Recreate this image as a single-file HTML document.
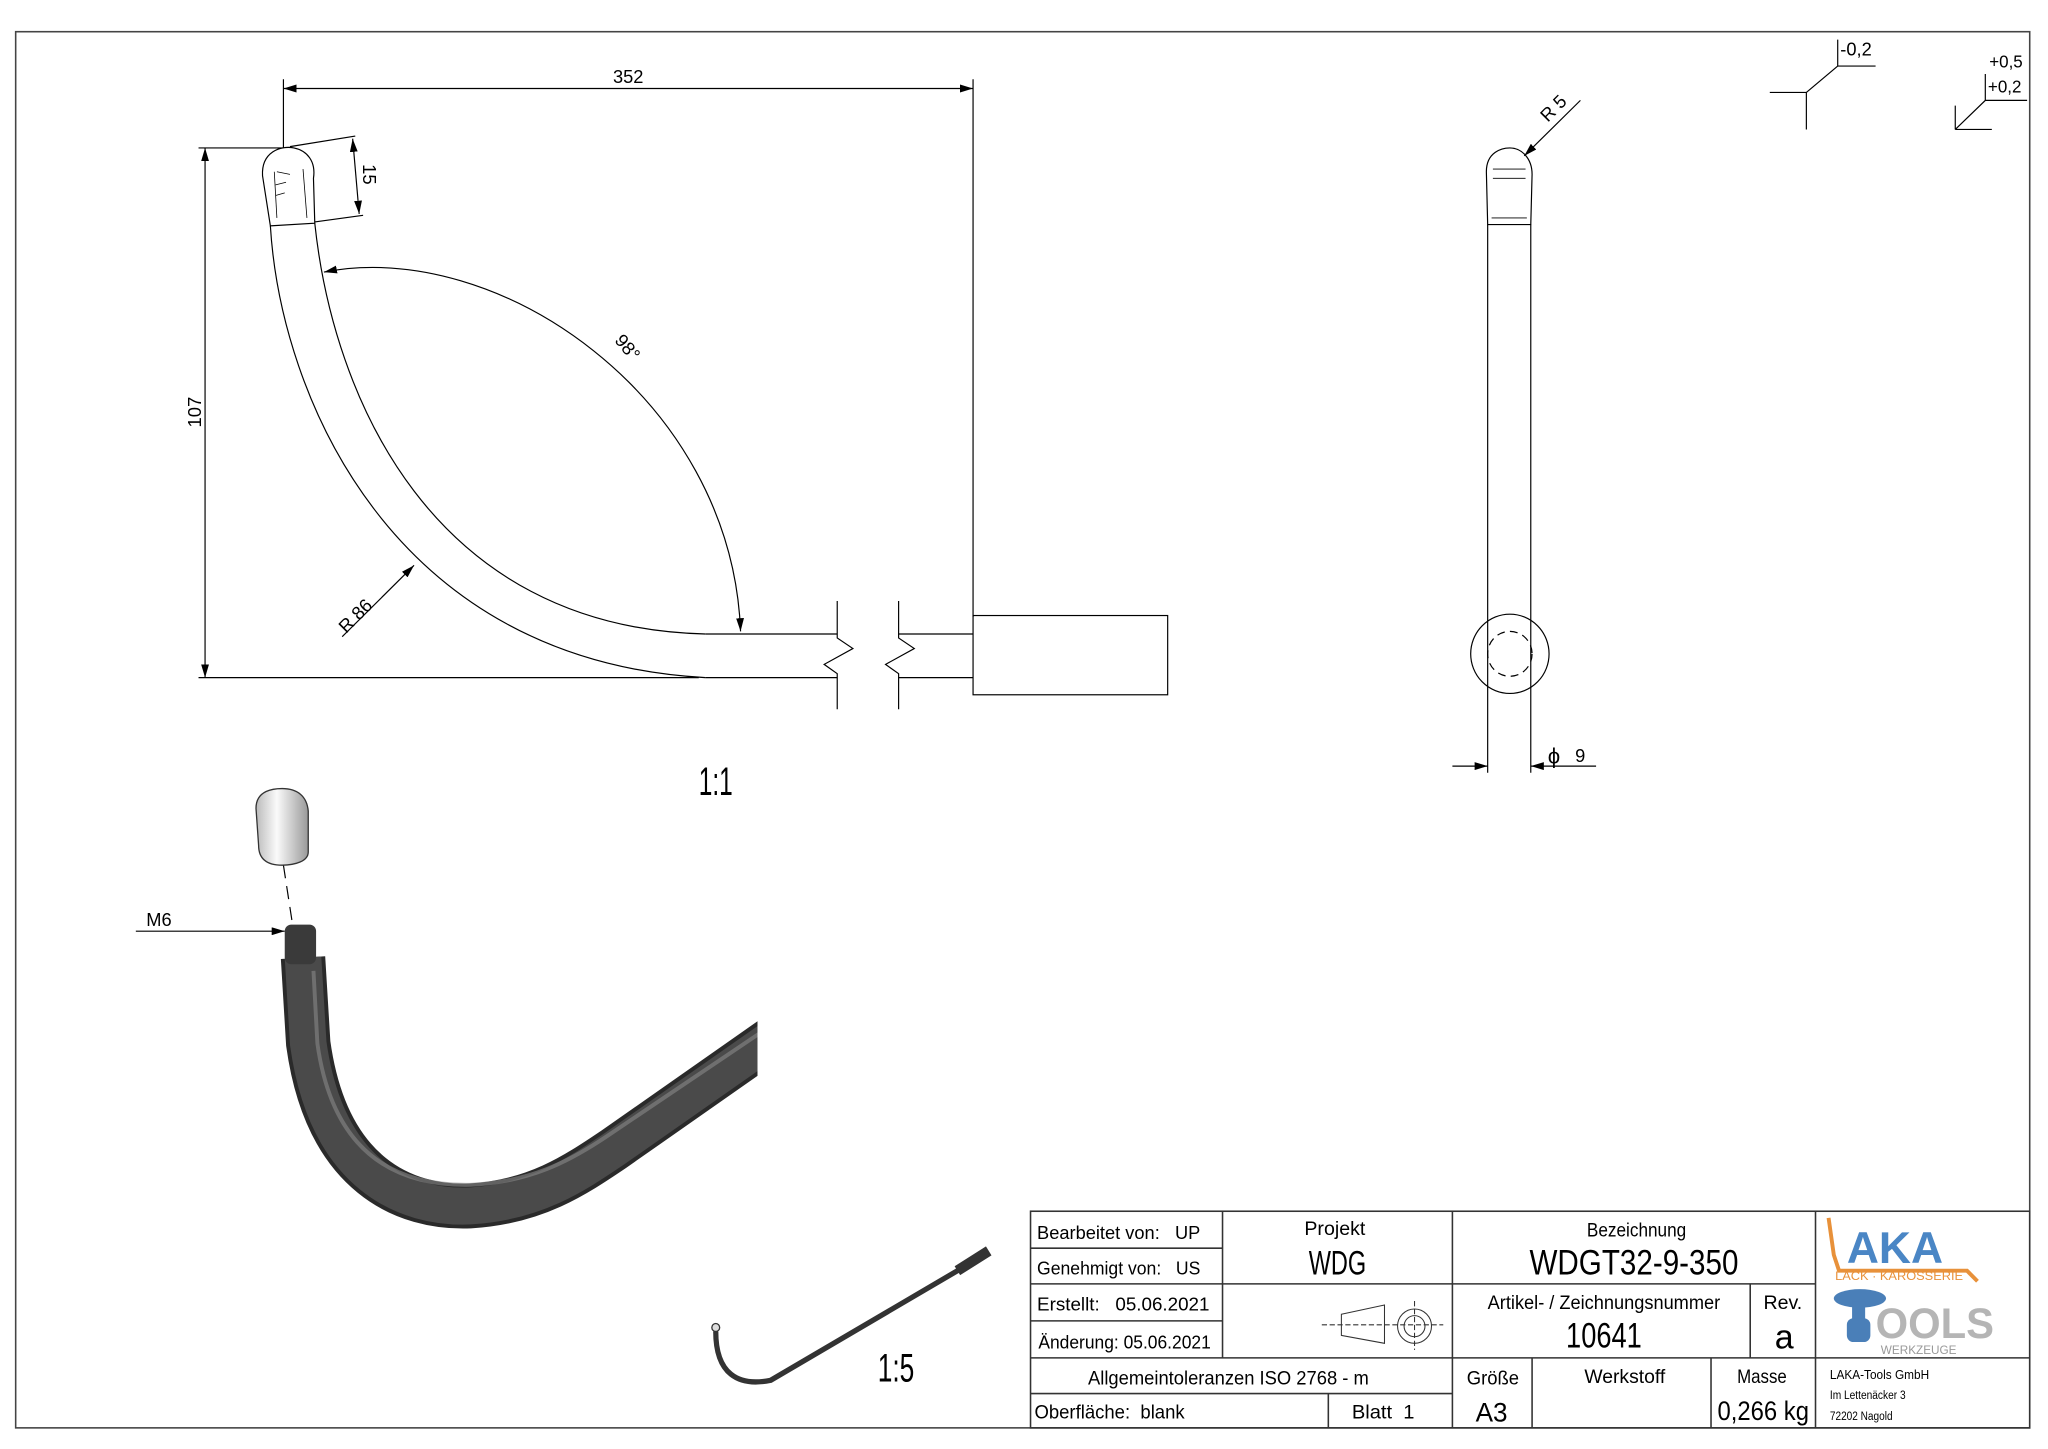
<!DOCTYPE html>
<html><head><meta charset="utf-8"><style>
html,body{margin:0;padding:0;background:#fff}
svg{display:block}
text{font-family:"Liberation Sans Narrow","Liberation Sans",sans-serif;fill:#000}
</style></head><body>
<svg width="2048" height="1449" viewBox="0 0 1568 1097" preserveAspectRatio="none" xmlns="http://www.w3.org/2000/svg">
<defs>
<marker id="a" markerWidth="10" markerHeight="6" refX="10" refY="3" orient="auto-start-reverse" markerUnits="userSpaceOnUse"><path d="M0,0 L10,3 L0,6z" fill="#000"/></marker>
<linearGradient id="cap" x1="0" x2="1"><stop offset="0" stop-color="#bbb"/><stop offset=".4" stop-color="#fafafa"/><stop offset="1" stop-color="#999"/></linearGradient>
<clipPath id="cl"><rect x="0" y="0" width="580" height="1097"/></clipPath>
</defs>
<rect x="12" y="24" width="1542" height="1057" fill="none" stroke="#444" stroke-width="1.2"/>
<g fill="none" stroke="#000" stroke-width="0.9">
<line x1="217" y1="60" x2="217" y2="112"/>
<line x1="745" y1="60" x2="745" y2="467"/>
<line x1="217" y1="67" x2="745" y2="67" marker-start="url(#a)" marker-end="url(#a)"/>
<line x1="152" y1="112" x2="217" y2="112"/>
<line x1="152" y1="513" x2="535" y2="513"/>
<line x1="157" y1="112" x2="157" y2="513" marker-start="url(#a)" marker-end="url(#a)"/>
<path d="M207,171 C215,300 300,500 540,513"/>
<path d="M241,169 C255,300 330,475 540,480"/>
<line x1="540" y1="480" x2="641" y2="480"/><line x1="540" y1="513" x2="641" y2="513"/>
<line x1="688" y1="480" x2="745" y2="480"/><line x1="688" y1="513" x2="745" y2="513"/>
<path d="M641,455 V483 L653,491 L631,503 L641,510 V537"/>
<path d="M688,455 V483 L700,491 L678,503 L688,510 V537"/>
<rect x="745" y="466" width="149" height="60"/>
<path d="M207,171 L201,133 C200,115 215,110 225,112 C235,114 242,122 240,135 L241,169 Z"/>
<g stroke-width="0.6"><line x1="210" y1="130" x2="212" y2="165"/><line x1="232" y1="128" x2="235" y2="165"/><line x1="212" y1="130" x2="222" y2="132"/><line x1="211" y1="140" x2="219" y2="138"/><line x1="211" y1="148" x2="218" y2="146"/></g>
<line x1="222" y1="111" x2="272" y2="103"/><line x1="241" y1="168" x2="278" y2="163"/>
<line x1="270" y1="105" x2="275" y2="162" marker-start="url(#a)" marker-end="url(#a)"/>
<path d="M248,206 C380,180 560,300 567,478" marker-start="url(#a)" marker-end="url(#a)"/>
<line x1="262" y1="482" x2="317" y2="428" marker-end="url(#a)"/>
<path d="M1139,170 L1138,130 C1138,115 1150,112 1156,112 C1165,112 1173,120 1173,132 L1172,170 Z"/>
<g stroke-width="0.6"><line x1="1143" y1="128" x2="1168" y2="128"/><line x1="1143" y1="135" x2="1168" y2="135"/><line x1="1142" y1="165" x2="1169" y2="165"/></g>
<line x1="1139" y1="170" x2="1139" y2="585"/><line x1="1172" y1="170" x2="1172" y2="585"/>
<circle cx="1156" cy="495" r="30"/>
<circle cx="1156" cy="495" r="17" stroke-dasharray="6,4"/>
<line x1="1210" y1="76" x2="1167" y2="118" marker-end="url(#a)"/>
<line x1="1112" y1="580" x2="1139" y2="580" marker-end="url(#a)"/>
<line x1="1222" y1="580" x2="1172" y2="580" marker-end="url(#a)"/>
<path d="M1355,70 H1383 V98 M1383,70 L1407,50 H1436 M1407,50 V30"/>
<path d="M1497,98 L1520,76 H1552 M1520,76 V56 M1497,98 H1525 M1497,98 V80"/>
<line x1="104" y1="705" x2="218" y2="705" marker-end="url(#a)"/>
<line x1="217" y1="655" x2="224" y2="700" stroke-dasharray="10,6"/>
</g>
<g font-size="14">
<text x="481" y="63" text-anchor="middle">352</text>
<text transform="translate(154,312) rotate(-90)" text-anchor="middle">107</text>
<text transform="translate(278,132) rotate(90)" text-anchor="middle">15</text>
<text transform="translate(470,258) rotate(50)">98°</text>
<text transform="translate(265,480) rotate(-45)">R 86</text>
<text transform="translate(1185,93) rotate(-45)">R 5</text>
<text x="1185" y="578" font-size="17">ϕ</text><text x="1206" y="577">9</text>
<text x="112" y="701">M6</text>
<text x="1409" y="42">-0,2</text>
<text x="1523" y="51" font-size="13">+0,5</text>
<text x="1522" y="70" font-size="13">+0,2</text>
</g>
<text x="548" y="602" font-size="30" text-anchor="middle" textLength="26" lengthAdjust="spacingAndGlyphs">1:1</text>
<text x="686" y="1046" font-size="30" text-anchor="middle" textLength="28" lengthAdjust="spacingAndGlyphs">1:5</text>
<g clip-path="url(#cl)">
<path d="M232,725 L236,790 C250,890 310,915 360,913 C410,910 440,890 470,870 L600,780" fill="none" stroke="#2a2a2a" stroke-width="34"/>
<path d="M232,725 L236,790 C250,890 310,915 360,913 C410,910 440,890 470,870 L600,780" fill="none" stroke="#4a4a4a" stroke-width="28"/>
<path d="M240,735 L243,790 C255,875 305,898 360,897 C405,895 435,880 465,860 L600,770" fill="none" stroke="#888" stroke-width="3" opacity=".6"/>
</g>
<rect x="218" y="700" width="24" height="30" rx="5" fill="#3a3a3a"/>
<path d="M198,640 L196,612 C196,598 210,597 216,597 C228,597 235,603 236,614 L236,645 C236,652 226,655 216,655 C204,655 198,650 198,640Z" fill="url(#cap)" stroke="#333" stroke-width="1"/>
<path d="M548,1008 C548,1040 565,1050 590,1045 L740,958" fill="none" stroke="#333" stroke-width="4"/>
<path d="M733,962 L757,947" stroke="#333" stroke-width="8"/>
<circle cx="548" cy="1005" r="3" fill="#ddd" stroke="#333"/>
<g fill="none" stroke="#333" stroke-width="1.2">
<rect x="789" y="917" width="765" height="164"/>
<line x1="789" y1="945" x2="936" y2="945"/><line x1="789" y1="1000" x2="936" y2="1000"/>
<line x1="789" y1="972" x2="1390" y2="972"/>
<line x1="789" y1="1028" x2="1554" y2="1028"/>
<line x1="789" y1="1055" x2="1112" y2="1055"/>
<line x1="936" y1="917" x2="936" y2="1028"/>
<line x1="1112" y1="917" x2="1112" y2="1081"/>
<line x1="1390" y1="917" x2="1390" y2="1081"/>
<line x1="1340" y1="972" x2="1340" y2="1028"/>
<line x1="1017" y1="1055" x2="1017" y2="1081"/>
<line x1="1173" y1="1028" x2="1173" y2="1081"/>
<line x1="1310" y1="1028" x2="1310" y2="1081"/>
</g>
<g fill="none" stroke="#333" stroke-width="0.8">
<path d="M1027,995 L1060,988 V1017 L1027,1011Z"/>
<circle cx="1083" cy="1004" r="13"/><circle cx="1083" cy="1004" r="8"/>
<line x1="1012" y1="1003" x2="1105" y2="1003" stroke-dasharray="4,2"/>
<line x1="1083" y1="985" x2="1083" y2="1022" stroke-dasharray="4,2"/>
</g>
<g font-size="14" lengthAdjust="spacingAndGlyphs">
<text x="794" y="938" textLength="125" lengthAdjust="spacingAndGlyphs">Bearbeitet von:&#160;&#160;&#160;UP</text>
<text x="794" y="965" textLength="125" lengthAdjust="spacingAndGlyphs">Genehmigt von:&#160;&#160;&#160;US</text>
<text x="794" y="992" textLength="132" lengthAdjust="spacingAndGlyphs">Erstellt:&#160;&#160;&#160;05.06.2021</text>
<text x="795" y="1021" textLength="132" lengthAdjust="spacingAndGlyphs">Änderung:&#160;05.06.2021</text>
<text x="833" y="1048" font-size="15" textLength="215" lengthAdjust="spacingAndGlyphs">Allgemeintoleranzen ISO 2768 - m</text>
<text x="792" y="1074" font-size="15" textLength="115" lengthAdjust="spacingAndGlyphs">Oberfläche:&#160;&#160;blank</text>
<text x="1035" y="1074" font-size="15" textLength="48" lengthAdjust="spacingAndGlyphs">Blatt&#160;&#160;1</text>
<text x="1022" y="935" text-anchor="middle" font-size="15">Projekt</text>
<text x="1024" y="965" text-anchor="middle" font-size="26" textLength="44" lengthAdjust="spacingAndGlyphs">WDG</text>
<text x="1253" y="936" text-anchor="middle" font-size="15" textLength="76" lengthAdjust="spacingAndGlyphs">Bezeichnung</text>
<text x="1251" y="965" text-anchor="middle" font-size="27" textLength="160" lengthAdjust="spacingAndGlyphs">WDGT32-9-350</text>
<text x="1228" y="991" text-anchor="middle" font-size="15" textLength="178" lengthAdjust="spacingAndGlyphs">Artikel- / Zeichnungsnummer</text>
<text x="1228" y="1020" text-anchor="middle" font-size="27" textLength="58" lengthAdjust="spacingAndGlyphs">10641</text>
<text x="1365" y="991" text-anchor="middle" font-size="15">Rev.</text>
<text x="1366" y="1021" text-anchor="middle" font-size="26">a</text>
<text x="1143" y="1048" text-anchor="middle" font-size="15" textLength="40" lengthAdjust="spacingAndGlyphs">Größe</text>
<text x="1142" y="1076" text-anchor="middle" font-size="20">A3</text>
<text x="1244" y="1047" text-anchor="middle" font-size="15" textLength="62" lengthAdjust="spacingAndGlyphs">Werkstoff</text>
<text x="1349" y="1047" text-anchor="middle" font-size="15" textLength="38" lengthAdjust="spacingAndGlyphs">Masse</text>
<text x="1350" y="1075" text-anchor="middle" font-size="20" textLength="70" lengthAdjust="spacingAndGlyphs">0,266 kg</text>
<text x="1401" y="1044" font-size="10" textLength="76" lengthAdjust="spacingAndGlyphs">LAKA-Tools GmbH</text>
<text x="1401" y="1059" font-size="9" textLength="58" lengthAdjust="spacingAndGlyphs">Im Lettenäcker 3</text>
<text x="1401" y="1075" font-size="9" textLength="48" lengthAdjust="spacingAndGlyphs">72202 Nagold</text>
</g>
<path d="M1400,922 L1404,950 L1408,962 H1506 L1514,970" fill="none" stroke="#e8913a" stroke-width="3"/>
<text x="1414" y="956" font-size="34" font-weight="bold" style="fill:#4a86c5">AKA</text>
<text x="1405" y="969" font-size="9" style="fill:#e8913a" textLength="98" lengthAdjust="spacingAndGlyphs">LACK · KAROSSERIE</text>
<ellipse cx="1424" cy="983" rx="20" ry="7" fill="#4a7fb8"/>
<rect x="1418" y="985" width="10" height="24" fill="#4a7fb8"/>
<rect x="1414" y="998" width="18" height="18" rx="5" fill="#4a7fb8"/>
<text x="1436" y="1013" font-size="32" font-weight="bold" style="fill:#b5b5b5">OOLS</text>
<text x="1440" y="1025" font-size="9" style="fill:#999">WERKZEUGE</text>
</svg>
</body></html>
